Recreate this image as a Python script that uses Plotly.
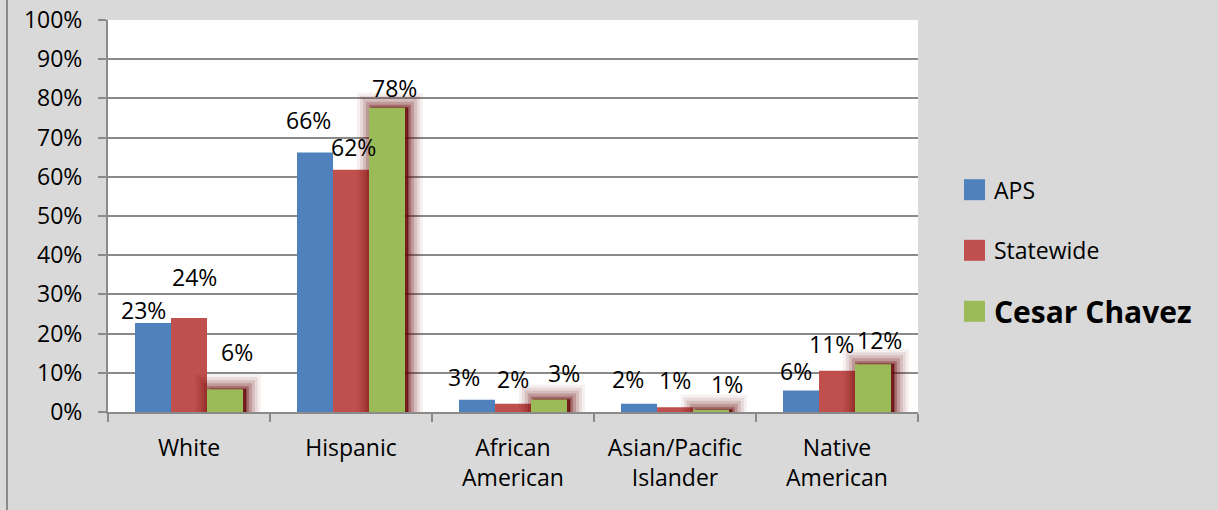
import math
import plotly.graph_objects as go

# Student ethnicity share (%) by group
categories = ["White", "Hispanic", "African<br>American", "Asian/Pacific<br>Islander", "Native<br>American"]
aps = [22.7, 66.2, 3.1, 2.1, 5.5]
statewide = [24.0, 61.8, 2.1, 1.2, 10.5]
cesar_chavez = [5.8, 77.6, 3.2, 0.6, 12.2]
series_names = ["APS", "Statewide", "Cesar Chavez"]
y_ticks = list(range(0, 101, 10))

# Layout geometry (pixels)
W, H = 1218, 510
M_L, M_R, M_T, M_B = 108, 300, 20, 98
PLOT_W = W - M_L - M_R
PLOT_H = H - M_T - M_B
CAT_PX = PLOT_W / len(categories)

BAR_W = 36 / 162
OFFSETS = [-1.5 * BAR_W, -0.5 * BAR_W, 0.5 * BAR_W]
COLORS = ["#4f81bd", "#c0504d", "#9bbb59"]
FONT = "'Open Sans', Lato, sans-serif"
FS = 23
GRID = "#8a8a8a"

# label nudges (dx, dy in px relative to the bar's top centre), one row per series
label_nudge = [
    [(-10, 13), (-7, 33), (-13, 23), (-11, 25), (-5, 19)],
    [(5, 41), (2, 23), (0, 25), (0, 27), (-6, 27)],
    [(12, 37), (7, 20), (15, 26), (16, 26), (6, 24)],
]


def px_to_paper_x(px):
    return (px - M_L) / PLOT_W


def px_to_paper_y(py):
    return (M_T + PLOT_H - py) / PLOT_H


fig = go.Figure()
all_series = [aps, statewide, cesar_chavez]

for i, (name, vals) in enumerate(zip(series_names[:2], all_series[:2])):
    fig.add_trace(go.Bar(
        x=categories, y=vals, name=name, width=BAR_W, offset=OFFSETS[i],
        marker=dict(color=COLORS[i], line=dict(width=0)), showlegend=False,
        hoverinfo="skip",
    ))

# smoky dark-red glow behind the Cesar Chavez bars
for lw, alpha in [(30, 0.06), (24, 0.09), (18, 0.13), (12, 0.2), (6, 0.3), (2, 0.35)]:
    fig.add_trace(go.Bar(
        x=categories, y=cesar_chavez, width=BAR_W, offset=OFFSETS[2] + 0.018,
        marker=dict(color=f"rgba(100,5,5,{alpha})",
                    line=dict(width=lw, color=f"rgba(100,5,5,{alpha})")),
        showlegend=False, cliponaxis=False, hoverinfo="skip",
    ))

fig.add_trace(go.Bar(
    x=categories, y=cesar_chavez, name=series_names[2], width=BAR_W, offset=OFFSETS[2],
    marker=dict(color=COLORS[2], line=dict(width=0)), showlegend=False,
    hoverinfo="skip",
))

# value labels
annotations = []
for s, vals in enumerate(all_series):
    centre_px = (OFFSETS[s] + BAR_W / 2) * CAT_PX
    for c, v in enumerate(vals):
        dx, dy = label_nudge[s][c]
        annotations.append(dict(
            x=categories[c], y=v, xref="x", yref="y",
            text=f"{math.floor(v + 0.5)}%", showarrow=False,
            xshift=centre_px + dx, yshift=dy,
            font=dict(family=FONT, size=FS, color="#000000"),
            xanchor="center", yanchor="middle",
        ))

# legend
legend_y = [189.7, 250.3, 311.3]
legend_sizes = [23, 23, 30]
shapes = []
for i, name in enumerate(series_names):
    cy = legend_y[i]
    shapes.append(dict(
        type="rect", xref="paper", yref="paper",
        x0=px_to_paper_x(964), x1=px_to_paper_x(985),
        y0=px_to_paper_y(cy + 10.5), y1=px_to_paper_y(cy - 10.5),
        fillcolor=COLORS[i], line=dict(width=0),
    ))
    label = f"<b>{name}</b>" if i == 2 else name
    annotations.append(dict(
        x=px_to_paper_x(992), y=px_to_paper_y(cy), xref="paper", yref="paper",
        text=label, showarrow=False, xanchor="left", yanchor="middle",
        font=dict(family=FONT, size=legend_sizes[i], color="#000000"),
    ))

# chart frame edge on the left
shapes.append(dict(
    type="line", xref="paper", yref="paper",
    x0=px_to_paper_x(7), x1=px_to_paper_x(7),
    y0=px_to_paper_y(0), y1=px_to_paper_y(H),
    line=dict(color="#8a8a8a", width=2),
))

fig.update_layout(
    width=W, height=H,
    margin=dict(l=M_L, r=M_R, t=M_T, b=M_B, pad=0, autoexpand=False),
    paper_bgcolor="#d9d9d9", plot_bgcolor="#ffffff",
    barmode="overlay",
    font=dict(family=FONT, size=FS, color="#000000"),
    annotations=annotations, shapes=shapes,
    showlegend=False,
)
fig.update_xaxes(
    type="category", tickson="boundaries", ticks="outside", ticklen=8,
    tickcolor=GRID, tickwidth=2, showline=True, linecolor=GRID, linewidth=2,
    showgrid=False, ticklabelstandoff=14, automargin=False,
    tickfont=dict(family=FONT, size=FS, color="#000000"),
    range=[-0.5, len(categories) - 0.5],
)
fig.update_yaxes(
    range=[0, 100], tickvals=y_ticks, ticktext=[f"{t}%" for t in y_ticks],
    ticks="outside", ticklen=8, tickcolor=GRID, tickwidth=2,
    showline=True, linecolor=GRID, linewidth=2,
    showgrid=True, gridcolor=GRID, gridwidth=1.5, zeroline=False,
    ticklabelstandoff=11, automargin=False,
    tickfont=dict(family=FONT, size=FS, color="#000000"),
)

fig.write_html("out.html")
